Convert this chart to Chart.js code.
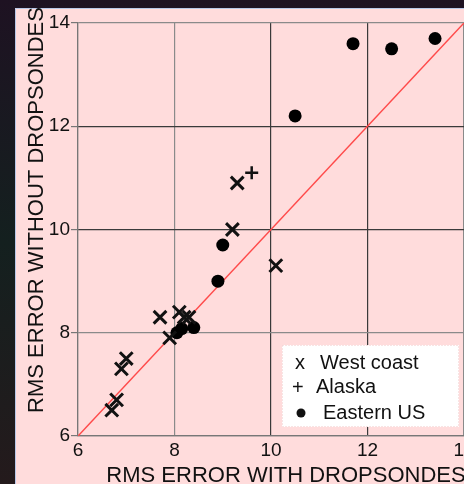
<!DOCTYPE html>
<html>
<head>
<meta charset="utf-8">
<script src="https://cdn.jsdelivr.net/npm/chart.js@4/dist/chart.umd.min.js"></script>
<style type="text/css">
    html, body { margin: 0; padding: 0; background: #1c1822; }
    #chartContainer { display: block; }
</style>
</head>
<body>
<canvas id="chartContainer" width="464" height="484"></canvas>

<script type="text/javascript">
// West coast cases (x markers)
const westX = [6.7, 6.8, 6.9, 7.0, 7.7, 7.9, 8.1, 8.2, 8.3, 9.2, 9.3, 10.1];
const westY = [6.5, 6.7, 7.3, 7.5, 8.3, 7.9, 8.4, 8.3, 8.3, 10.0, 10.9, 9.3];

// Alaska cases (+ markers)
const alaskaX = [9.6];
const alaskaY = [11.1];

// Eastern US cases (dots)
const eastX = [8.05, 8.15, 8.4, 8.9, 9.0, 10.5, 11.7, 12.5, 13.4];
const eastY = [8.0, 8.08, 8.1, 9.0, 9.7, 12.2, 13.6, 13.5, 13.7];

// y = x reference line
const diagX = [6, 14];
const diagY = [6, 14];

const tickValues = [6, 8, 10, 12, 14];
const seriesLabels = ['West coast', 'Alaska', 'Eastern US'];
const xTitle = 'RMS ERROR WITH DROPSONDES';
const yTitle = 'RMS ERROR WITHOUT DROPSONDES';

const FONT = "'Liberation Sans', Arial, Helvetica, sans-serif";

function toPoints(xs, ys) {
    return xs.map((x, i) => ({ x: x, y: ys[i] }));
}

function gridColor(ctx) {
    const v = ctx.tick ? ctx.tick.value : null;
    if (v === 10 || v === 12) return '#3a3a3a';
    if (v === 6) return '#777777';
    return '#8a8a8a';
}

// backdrop: dark frame + pink panel
const backdrop = {
    id: 'backdrop',
    beforeDraw(chart) {
        const c = chart.ctx;
        c.save();
        const g = c.createLinearGradient(0, 0, 0, chart.height);
        g.addColorStop(0, '#1e1222');
        g.addColorStop(0.5, '#14201f');
        g.addColorStop(1, '#241a1c');
        c.fillStyle = g;
        c.fillRect(0, 0, chart.width, chart.height);
        c.fillStyle = '#ffdcdc';
        c.fillRect(15, 8, chart.width - 15, chart.height - 8);
        c.strokeStyle = '#b8c8e8';
        c.lineWidth = 1;
        c.beginPath();
        c.moveTo(15.5, chart.height);
        c.lineTo(15.5, 8.5);
        c.lineTo(chart.width, 8.5);
        c.stroke();
        c.restore();
    }
};

// axis titles and legend box
const decorations = {
    id: 'decorations',
    afterDraw(chart) {
        const c = chart.ctx;
        c.save();
        c.fillStyle = '#111111';
        c.font = '22px ' + FONT;
        c.textBaseline = 'alphabetic';
        c.textAlign = 'center';
        c.fillText(xTitle, 286, 482);

        c.translate(43, 210);
        c.rotate(-Math.PI / 2);
        c.fillText(yTitle, 0, 0);
        c.restore();

        c.save();
        c.fillStyle = '#ffffff';
        c.fillRect(282, 345, 177, 82);
        c.setLineDash([1, 2]);
        c.strokeStyle = '#f0c8c8';
        c.strokeRect(282.5, 345.5, 176, 81);
        c.setLineDash([]);

        c.fillStyle = '#111111';
        c.font = '20px ' + FONT;
        c.textAlign = 'left';
        c.fillText('x', 295, 369);
        c.fillText(seriesLabels[0], 320, 369);
        c.fillText('+', 292, 394);
        c.fillText(seriesLabels[1], 316, 393);
        c.beginPath();
        c.arc(301, 413, 4.5, 0, Math.PI * 2);
        c.fill();
        c.fillText(seriesLabels[2], 323, 419);
        c.restore();
    }
};

const chartCanvas = document.getElementById('chartContainer');

new Chart(chartCanvas, {
    type: 'scatter',
    data: {
        datasets: [{
            label: seriesLabels[0],
            data: toPoints(westX, westY),
            pointStyle: 'crossRot',
            pointRadius: 9,
            pointBorderWidth: 3,
            borderColor: '#111111',
            backgroundColor: '#111111',
            order: 1
        }, {
            label: seriesLabels[1],
            data: toPoints(alaskaX, alaskaY),
            pointStyle: 'cross',
            pointRadius: 6.5,
            pointBorderWidth: 2.5,
            borderColor: '#111111',
            backgroundColor: '#111111',
            order: 1
        }, {
            label: seriesLabels[2],
            data: toPoints(eastX, eastY),
            pointStyle: 'circle',
            pointRadius: 6.5,
            pointBorderWidth: 0,
            borderColor: '#000000',
            backgroundColor: '#000000',
            order: 1
        }, {
            label: 'y = x',
            type: 'line',
            data: toPoints(diagX, diagY),
            borderColor: '#ff4a4a',
            borderWidth: 1.5,
            pointRadius: 0,
            fill: false,
            order: 10
        }]
    },
    options: {
        responsive: false,
        animation: false,
        devicePixelRatio: 1,
        layout: {
            autoPadding: false,
            padding: { top: 23, left: 0, right: 0, bottom: 0 }
        },
        plugins: {
            legend: { display: false },
            tooltip: { enabled: false }
        },
        scales: {
            x: {
                type: 'linear',
                min: 6,
                max: 14,
                afterBuildTicks: (scale) => { scale.ticks = tickValues.map(v => ({ value: v })); },
                afterFit: (scale) => {
                    scale.height = 48;
                    scale.paddingLeft = 0;
                    scale.paddingRight = 0;
                },
                ticks: {
                    color: '#111111',
                    font: { family: FONT, size: 19 },
                    padding: 3,
                    maxRotation: 0
                },
                grid: {
                    color: gridColor,
                    lineWidth: 1.2,
                    drawTicks: false
                },
                border: { color: '#777777', width: 1.2 }
            },
            y: {
                type: 'linear',
                min: 6,
                max: 14,
                afterBuildTicks: (scale) => { scale.ticks = tickValues.map(v => ({ value: v })); },
                afterFit: (scale) => {
                    scale.width = 78;
                    scale.paddingTop = 0;
                    scale.paddingBottom = 0;
                },
                ticks: {
                    color: '#111111',
                    font: { family: FONT, size: 19 },
                    padding: 1
                },
                grid: {
                    color: gridColor,
                    lineWidth: 1.2,
                    drawTicks: true,
                    tickLength: 7,
                    tickColor: '#777777'
                },
                border: { color: '#777777', width: 1.2 }
            }
        }
    },
    plugins: [backdrop, decorations]
});
</script>
</body>
</html>
